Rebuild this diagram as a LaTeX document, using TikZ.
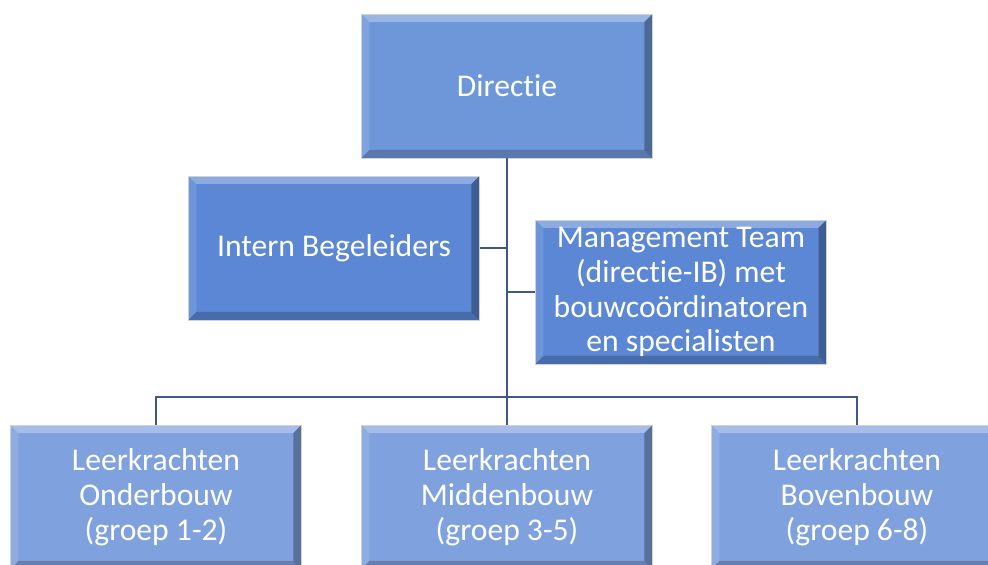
\documentclass[tikz,border=0pt]{standalone}
\usepackage{fontspec}
\setmainfont{Carlito}[Ligatures=NoCommon]
\usetikzlibrary{calc}

\definecolor{dirblue}{RGB}{110,151,218}
\definecolor{ibblue}{RGB}{91,135,212}
\definecolor{lowblue}{RGB}{127,161,221}
\definecolor{linkblue}{RGB}{62,88,135}

\begin{document}
\begin{tikzpicture}[block/.style={rectangle, fill=#1, draw=gray!35, line width=0.6pt,
        minimum width=72.75mm, minimum height=36mm, inner sep=0pt,
        text=white, align=center, font=\fontsize{22.5}{24.8}\selectfont,
        path picture={
          \fill[white, opacity=.3] (path picture bounding box.north west) -- (path picture bounding box.north east)
            -- ++(-2mm,-2mm) -- ($(path picture bounding box.north west)+(2mm,-2mm)$) -- cycle;
          \fill[white, opacity=.12] (path picture bounding box.south west) -- (path picture bounding box.north west)
            -- ++(2mm,-2mm) -- ($(path picture bounding box.south west)+(2mm,2mm)$) -- cycle;
          \fill[black, opacity=.3] (path picture bounding box.north east) -- (path picture bounding box.south east)
            -- ++(-2mm,2mm) -- ($(path picture bounding box.north east)+(-2mm,-2mm)$) -- cycle;
          \fill[black, opacity=.2] (path picture bounding box.south east) -- (path picture bounding box.south west)
            -- ++(2mm,2mm) -- ($(path picture bounding box.south east)+(-2mm,2mm)$) -- cycle;
        }},
      conn/.style={draw=linkblue, line width=1.1pt},
      node distance=40mm]
      \path[use as bounding box, clip] (-126.75mm,21.5mm) rectangle (120.25mm,-119.75mm);

      \node[block=dirblue] (dir) {Directie};

      \node[coordinate, below of=dir, node distance=40.5mm] (jib) {};
      \node[block=ibblue, left of=jib, node distance=43.25mm] (ib) {Intern Begeleiders};

      \node[coordinate, below of=dir, node distance=51.5mm] (jmt) {};
      \node[block=ibblue, right of=jmt, node distance=43.5mm] (mt) {Management Team\\(directie-IB) met\\bouwcoördinatoren\\en specialisten};

      \node[coordinate, below of=dir, node distance=77.75mm] (bar) {};
      \node[block=lowblue, below of=dir, node distance=102.75mm] (mid) {Leerkrachten\\Middenbouw\\(groep 3-5)};
      \node[block=lowblue, left of=mid, node distance=87.75mm] (low) {Leerkrachten\\Onderbouw\\(groep 1-2)};
      \node[block=lowblue, right of=mid, node distance=87.5mm] (up) {Leerkrachten\\Bovenbouw\\(groep 6-8)};

      \draw[conn] (dir.south) -- (bar);
      \draw[conn] (ib.east) -- (jib);
      \draw[conn] (jmt) -- (mt.west);
      \draw[conn] (low.north) |- (bar) -| (up.north);
      \draw[conn] (bar) -- (mid.north);

    \end{tikzpicture}
\end{document}
